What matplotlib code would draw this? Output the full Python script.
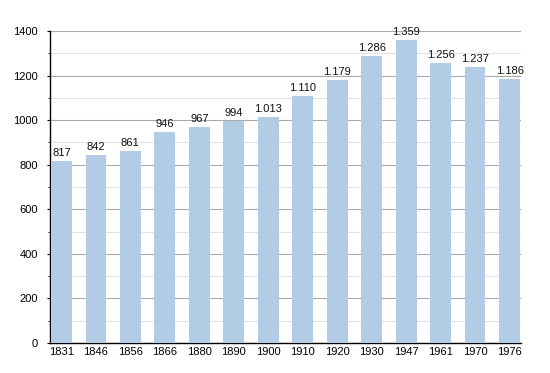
import matplotlib
matplotlib.use("Agg")
import matplotlib.pyplot as plt
from matplotlib.ticker import MultipleLocator

plt.rcParams["font.family"] = ["Liberation Sans", "DejaVu Sans"]

years = ["1831", "1846", "1856", "1866", "1880", "1890", "1900", "1910",
         "1920", "1930", "1947", "1961", "1970", "1976"]
population = [817, 842, 861, 946, 967, 994, 1013, 1110, 1179, 1286, 1359,
              1256, 1237, 1186]


def fmt(v):
    # thousands separator is a dot
    return "{:,}".format(v).replace(",", ".")


fig = plt.figure(figsize=(5.5, 3.73), dpi=100)
ax = fig.add_axes([50 / 550, 30 / 373, 471 / 550, 312 / 373])

x = list(range(len(years)))
ax.bar(x, population, width=0.6, color="#b3cce5", zorder=3)

for xi, v in zip(x, population):
    ax.text(xi, v + 14, fmt(v), ha="center", va="bottom", fontsize=8,
            color="#111111", zorder=4)

ax.set_xlim(-0.33, 13.33)
ax.set_ylim(0, 1400)
ax.set_xticks(x)
ax.set_xticklabels(years)
ax.yaxis.set_major_locator(MultipleLocator(200))
ax.yaxis.set_minor_locator(MultipleLocator(100))
ax.grid(axis="y", which="major", color="#aaaaaa", linewidth=0.8, zorder=0)
ax.grid(axis="y", which="minor", color="#e2e2e2", linewidth=0.8, zorder=0)

for s in ["top", "right"]:
    ax.spines[s].set_visible(False)
ax.spines["left"].set_linewidth(1.0)
ax.spines["bottom"].set_linewidth(1.0)
ax.tick_params(axis="x", length=0, labelsize=8, pad=3)
ax.tick_params(axis="y", which="major", length=2.5, labelsize=8, pad=6)
ax.tick_params(axis="y", which="minor", length=1.5)

fig.savefig("out.png", dpi=100)
